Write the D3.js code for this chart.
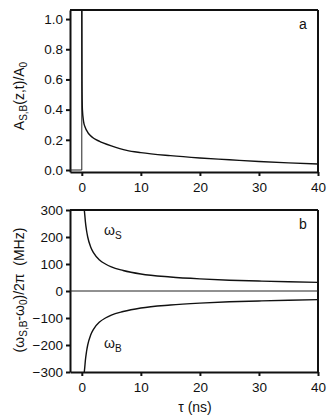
<!DOCTYPE html>
<html>
<head>
<meta charset="utf-8">
<script src="https://cdn.jsdelivr.net/npm/d3@7"></script>
<style>
    body { margin: 0; background: #fff; }
    text { font-family: "Liberation Sans", Arial, sans-serif; fill: #111; }
    .axis path, .axis line { stroke: #111; stroke-width: 2; }
    .axis text { font-size: 13.5px; }
    .curve { fill: none; stroke: #111; stroke-width: 1.4; }
    .thin { fill: none; stroke: #222; stroke-width: 1; }
</style>
</head>
<body>
<div id="chart"></div>
<script>
// values
const tauTicks = [0, 10, 20, 30, 40]
const ampTicks = [0, 0.2, 0.4, 0.6, 0.8, 1.0]
const freqTicks = [-300, -200, -100, 0, 100, 200, 300]

// panel a : amplitude decay after the step at tau = 0
const ampTau = [0, 0.03, 0.1, 0.3, 0.55, 1, 1.4, 2, 3, 3.6, 5, 7.6, 10, 15, 20, 25, 30, 35, 40]
const ampVal = [1.1, 0.6, 0.4, 0.32, 0.285, 0.25, 0.23, 0.21, 0.19, 0.18, 0.16, 0.13, 0.115, 0.095, 0.08, 0.068, 0.056, 0.047, 0.04]
// before the step
const preTau = [-2, 0, 0]
const preVal = [0, 0, 1.1]

// panel b : frequency shifts
const omTau = [0.42, 0.5, 0.6, 0.8, 1, 1.5, 2, 3, 4, 5, 7, 10, 15, 20, 25, 30, 35, 40]
const omegaS = [300, 283, 258, 224, 200, 163, 141, 115, 100, 89, 76, 63, 52, 45, 40, 37, 34, 32]
const omegaB = [-300, -283, -258, -224, -200, -163, -141, -115, -100, -89, -76, -63, -52, -45, -40, -37, -34, -32]

const W = 333, H = 418
const left = 70, right = 318
const svg = d3.select('#chart').append('svg')
    .attr('width', W)
    .attr('height', H)

const xScale = d3.scaleLinear().domain([-2, 40]).range([left, right])

function drawPanel(top, bottom, yScale, yTicks, yFormat, letter, id) {
    svg.append('clipPath').attr('id', id)
        .append('rect')
        .attr('x', left).attr('y', top)
        .attr('width', right - left).attr('height', bottom - top)

    // box top + right
    svg.append('line').attr('x1', left).attr('x2', right).attr('y1', top).attr('y2', top)
        .attr('stroke', '#111').attr('stroke-width', 2)
    svg.append('line').attr('x1', right).attr('x2', right).attr('y1', top).attr('y2', bottom)
        .attr('stroke', '#111').attr('stroke-width', 2)

    svg.append('g')
        .attr('class', 'axis')
        .attr('transform', `translate(0,${bottom})`)
        .call(d3.axisBottom(xScale).tickValues(tauTicks).tickSize(4).tickSizeOuter(0).tickPadding(6))

    svg.append('g')
        .attr('class', 'axis')
        .attr('transform', `translate(${left},0)`)
        .call(d3.axisLeft(yScale).tickValues(yTicks).tickFormat(yFormat).tickSize(4).tickSizeOuter(0).tickPadding(3))

    svg.append('text')
        .attr('x', 303)
        .attr('y', top + 19)
        .attr('text-anchor', 'middle')
        .style('font-size', '14px')
        .text(letter)

    return svg.append('g').attr('clip-path', `url(#${id})`)
}

// panel a
const yA = d3.scaleLinear().domain([-0.0132, 1.06]).range([172, 10])
const gA = drawPanel(10, 172, yA, ampTicks, d3.format('.1f'), 'a', 'clipA')
const lineA = d3.line()
    .x((d) => xScale(d[0]))
    .y((d) => yA(d[1]))

gA.append('path')
    .datum(preTau.map((t, i) => [t, preVal[i]]))
    .attr('class', 'thin')
    .attr('d', lineA)
gA.append('path')
    .datum(ampTau.map((t, i) => [t, ampVal[i]]))
    .attr('class', 'curve')
    .attr('d', lineA.curve(d3.curveMonotoneX))

// panel b
const yB = d3.scaleLinear().domain([-300, 300]).range([372, 210])
const gB = drawPanel(210, 372, yB, freqTicks, d3.format('d'), 'b', 'clipB')
const lineB = d3.line()
    .x((d) => xScale(d[0]))
    .y((d) => yB(d[1]))
    .curve(d3.curveMonotoneX)

gB.append('line')
    .attr('class', 'thin')
    .attr('x1', left).attr('x2', right)
    .attr('y1', yB(0)).attr('y2', yB(0))
gB.append('path')
    .datum(omTau.map((t, i) => [t, omegaS[i]]))
    .attr('class', 'curve')
    .attr('d', lineB)
gB.append('path')
    .datum(omTau.map((t, i) => [t, omegaB[i]]))
    .attr('class', 'curve')
    .attr('d', lineB)

// curve labels
function omegaLabel(x, y, sub) {
    const t = svg.append('text').attr('x', x).attr('y', y).style('font-size', '14px')
    t.append('tspan').text('ω')
    t.append('tspan').attr('dy', 4).style('font-size', '10px').text(sub)
}
omegaLabel(104, 235, 'S')
omegaLabel(104, 348, 'B')

// axis titles
const tA = svg.append('text')
    .attr('transform', 'translate(24,96) rotate(-90)')
    .attr('text-anchor', 'middle')
    .style('font-size', '14px')
tA.append('tspan').text('A')
tA.append('tspan').attr('dy', 3).style('font-size', '10px').text('S,B')
tA.append('tspan').attr('dy', -3).text('(z,t)/A')
tA.append('tspan').attr('dy', 3).style('font-size', '10px').text('0')

const tB = svg.append('text')
    .attr('transform', 'translate(24,290) rotate(-90)')
    .attr('text-anchor', 'middle')
    .style('font-size', '14px')
    .style('white-space', 'pre')
tB.append('tspan').text('(ω')
tB.append('tspan').attr('dy', 3).style('font-size', '10px').text('S,B')
tB.append('tspan').attr('dy', -3).text('-ω')
tB.append('tspan').attr('dy', 3).style('font-size', '10px').text('0')
tB.append('tspan').attr('dy', -3).text(')/2π  (MHz)')

svg.append('text')
    .attr('x', 195)
    .attr('y', 412)
    .attr('text-anchor', 'middle')
    .style('font-size', '14px')
    .text('τ (ns)')
</script>
</body>
</html>
